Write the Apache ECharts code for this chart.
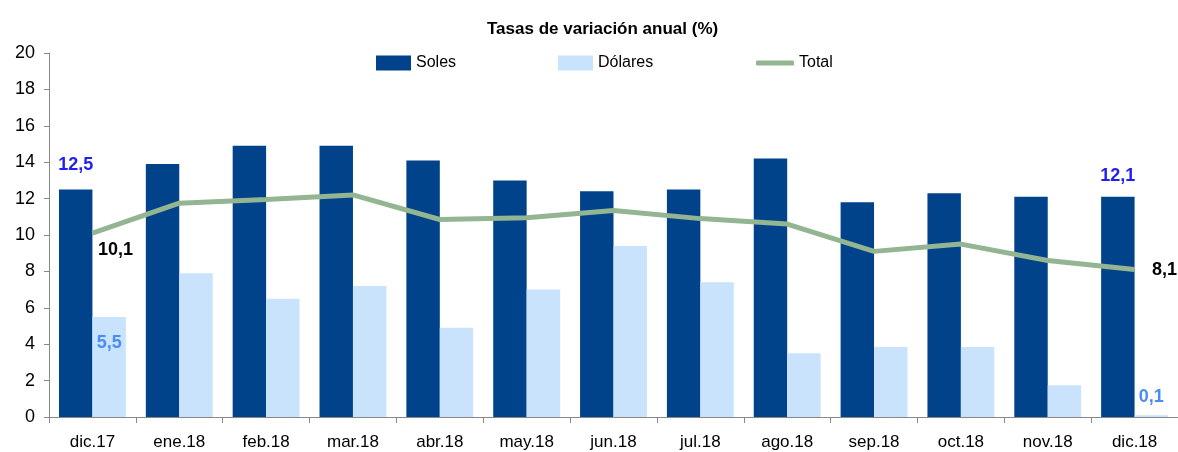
<!DOCTYPE html>
<html><head><meta charset="utf-8">
<script src="https://cdn.jsdelivr.net/npm/echarts@6/dist/echarts.min.js"></script>
<style>html,body{margin:0;padding:0;background:#fff}#c{width:1178px;height:452px}</style>
</head><body><div id="c"></div>
<script>
const categories = ['dic.17','ene.18','feb.18','mar.18','abr.18','may.18','jun.18','jul.18','ago.18','sep.18','oct.18','nov.18','dic.18'];
const soles   = [12.5, 13.9, 14.9, 14.9, 14.1, 13.0, 12.4, 12.5, 14.2, 11.8, 12.3, 12.1, 12.1];
const dolares = [5.5, 7.9, 6.5, 7.2, 4.9, 7.0, 9.4, 7.4, 3.5, 3.85, 3.85, 1.75, 0.1];
const total   = [10.1, 11.75, 11.95, 12.2, 10.85, 10.95, 11.35, 10.9, 10.6, 9.1, 9.5, 8.6, 8.1];
const yTicks  = [0, 20, 2];

const FONT = '"Liberation Sans", Arial, sans-serif';
const C_SOL = '#00438a', C_DOL = '#c8e3fb', C_TOT = '#93b592';
const fmt = v => String(v).replace('.', ',');
const last = categories.length - 1;

const lbl = (extra) => Object.assign({show: true, fontWeight: 'bold', fontSize: 18, fontFamily: FONT,
  formatter: p => fmt(p.value)}, extra);

const solesData = soles.map((v, i) => (i === 0 || i === last) ? {
  value: v, label: lbl({position: 'top', distance: i === 0 ? 15 : 12, color: '#1f1ff0'})
} : v);
const dolData = dolares.map((v, i) => i === 0 ? {
  value: v, label: lbl({position: 'insideTop', distance: 17, color: '#4a8cf5'})
} : i === last ? {
  value: v, label: lbl({position: 'top', distance: 9, color: '#4a8cf5'})
} : v);
const totData = total.map((v, i) => i === 0 ? {
  value: v, label: lbl({position: 'inside', offset: [23, 17], color: '#000'})
} : i === last ? {
  value: v, label: lbl({position: 'inside', offset: [30, 0], color: '#000'})
} : v);

const chart = echarts.init(document.getElementById('c'));
chart.setOption({
  animation: false,
  title: {text: 'Tasas de variación anual (%)', left: 482, top: 16,
    textStyle: {fontFamily: FONT, fontWeight: 'bold', fontSize: 17, color: '#000'}},
  legend: [
    {left: 371, top: 50, itemWidth: 35, itemHeight: 15, itemGap: 102,
      textStyle: {fontFamily: FONT, fontSize: 16, color: '#000'},
      data: [{name: 'Soles', icon: 'rect'}, {name: 'Dólares', icon: 'rect'}]},
    {left: 751, top: 50, itemWidth: 38, itemHeight: 5, itemGap: 4,
      textStyle: {fontFamily: FONT, fontSize: 16, color: '#000'},
      data: [{name: 'Total', icon: 'roundRect'}]}
  ],
  grid: {left: 49, right: -3, top: 53, bottom: 35, containLabel: false},
  xAxis: {type: 'category', data: categories,
    axisLine: {lineStyle: {color: '#888', width: 1}},
    axisTick: {show: true, alignWithLabel: false, length: 6, lineStyle: {color: '#888'}},
    axisLabel: {fontFamily: FONT, fontSize: 17, color: '#000', margin: 17, interval: 0}},
  yAxis: {type: 'value', min: yTicks[0], max: yTicks[1], interval: yTicks[2],
    splitLine: {show: false},
    axisLine: {show: true, lineStyle: {color: '#888'}},
    axisTick: {show: true, length: 5, lineStyle: {color: '#888'}},
    axisLabel: {fontFamily: FONT, fontSize: 18, color: '#000', margin: 14}},
  series: [
    {name: 'Soles', type: 'bar', data: solesData, barGap: '0%', barCategoryGap: '23%',
      itemStyle: {color: C_SOL}},
    {name: 'Dólares', type: 'bar', data: dolData, itemStyle: {color: C_DOL}},
    {name: 'Total', type: 'line', data: totData, symbol: 'circle', symbolSize: 1,
      itemStyle: {color: C_TOT}, lineStyle: {color: C_TOT, width: 5}}
  ]
});
</script></body></html>
